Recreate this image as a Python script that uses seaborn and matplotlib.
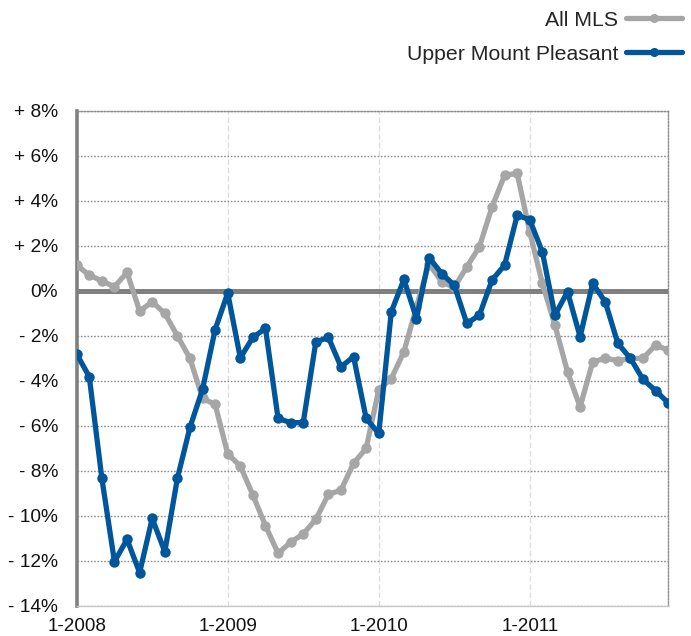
import numpy as np
import pandas as pd
import matplotlib
matplotlib.use("Agg")
import matplotlib.pyplot as plt
import seaborn as sns

months = list(range(48))
all_mls = [1.14, 0.70, 0.44, 0.18, 0.82, -0.90, -0.49, -1.00, -2.00, -3.00,
           -4.78, -5.05, -7.25, -7.79, -9.08, -10.44, -11.67, -11.18, -10.81, -10.16,
           -9.05, -8.86, -7.67, -7.00, -4.40, -3.90, -2.71, -0.70, 1.20, 0.40,
           0.15, 1.07, 1.96, 3.73, 5.14, 5.22, 2.62, 0.33, -1.52, -3.60,
           -5.16, -3.16, -3.00, -3.10, -3.00, -3.00, -2.41, -2.64]
upper_mp = [-2.81, -3.82, -8.34, -12.04, -11.05, -12.53, -10.12, -11.60, -8.34, -6.07,
            -4.38, -1.72, -0.10, -2.98, -2.07, -1.67, -5.67, -5.86, -5.86, -2.27,
            -2.07, -3.38, -2.93, -5.67, -6.34, -0.93, 0.51, -1.23, 1.48, 0.77,
            0.25, -1.45, -1.08, 0.48, 1.14, 3.36, 3.16, 1.73, -1.08, -0.04,
            -2.04, 0.33, -0.49, -2.34, -3.00, -3.94, -4.44, -4.98]
series_names = ["All MLS", "Upper Mount Pleasant"]
colors = ["#a6a6a6", "#00569a"]
x_tick_pos = [0, 12, 24, 36]
x_tick_labels = ["1-2008", "1-2009", "1-2010", "1-2011"]
y_ticks = list(range(-14, 9, 2))
y_tick_labels = [("+ %d%%" % v) if v > 0 else ("0%" if v == 0 else "- %d%%" % (-v)) for v in y_ticks]

df = pd.DataFrame({
    "month": months * 2,
    "value": all_mls + upper_mp,
    "series": [series_names[0]] * 48 + [series_names[1]] * 48,
})

sns.set_style("white")
plt.rcParams["font.family"] = ["Liberation Sans", "DejaVu Sans"]

fig = plt.figure(figsize=(6.91, 6.36), dpi=100)
ax = fig.add_axes([0.111, 0.0476, 0.856, 0.778])

ax.axhline(0, color="#808080", lw=3.6, zorder=1.5)

sns.lineplot(data=df, x="month", y="value", hue="series", palette=colors,
             hue_order=series_names, marker="o", markersize=7.5, markeredgewidth=0,
             linewidth=3.8, ax=ax, zorder=3, legend=True)

ax.set_xlim(0, 47)
ax.set_ylim(-14, 8)
ax.set_xticks(x_tick_pos)
ax.set_xticklabels(x_tick_labels, fontsize=13.6, color="#111111")
ax.set_yticks(y_ticks)
ax.set_yticklabels(y_tick_labels, fontsize=13.8, color="#111111")
ax.set_xlabel("")
ax.set_ylabel("")

ax.yaxis.grid(True, linestyle=(0, (1.2, 1.2)), color="#8c8c8c", linewidth=1.0)
ax.xaxis.grid(True, linestyle=(0, (4, 2)), color="#dedede", linewidth=1.0)
ax.set_axisbelow(True)

for side in ["top", "right", "bottom"]:
    ax.spines[side].set_visible(True)
    ax.spines[side].set_linestyle((0, (1.2, 1.2)))
    ax.spines[side].set_color("#8c8c8c")
    ax.spines[side].set_linewidth(1.0)
ax.spines["bottom"].set_linestyle("-")
ax.spines["bottom"].set_color("#c8c8c8")
ax.spines["left"].set_color("#808080")
ax.spines["left"].set_linewidth(2.6)

ax.tick_params(axis="y", direction="out", length=5, width=1.5, color="#808080", pad=8.3)
ax.tick_params(axis="x", length=0, pad=8.5)

handles, labels = ax.get_legend_handles_labels()
leg = ax.legend(handles, labels, loc="upper right", bbox_to_anchor=(1.0, 0.997),
                bbox_transform=fig.transFigure, frameon=False, markerfirst=False,
                fontsize=15.3, handlelength=2.65, labelspacing=0.7, handletextpad=0.35,
                borderaxespad=0.0, borderpad=0.42)
for h in leg.get_lines():
    h.set_linewidth(3.8)
    h.set_markersize(6.5)

fig.savefig("out.png", dpi=100)
